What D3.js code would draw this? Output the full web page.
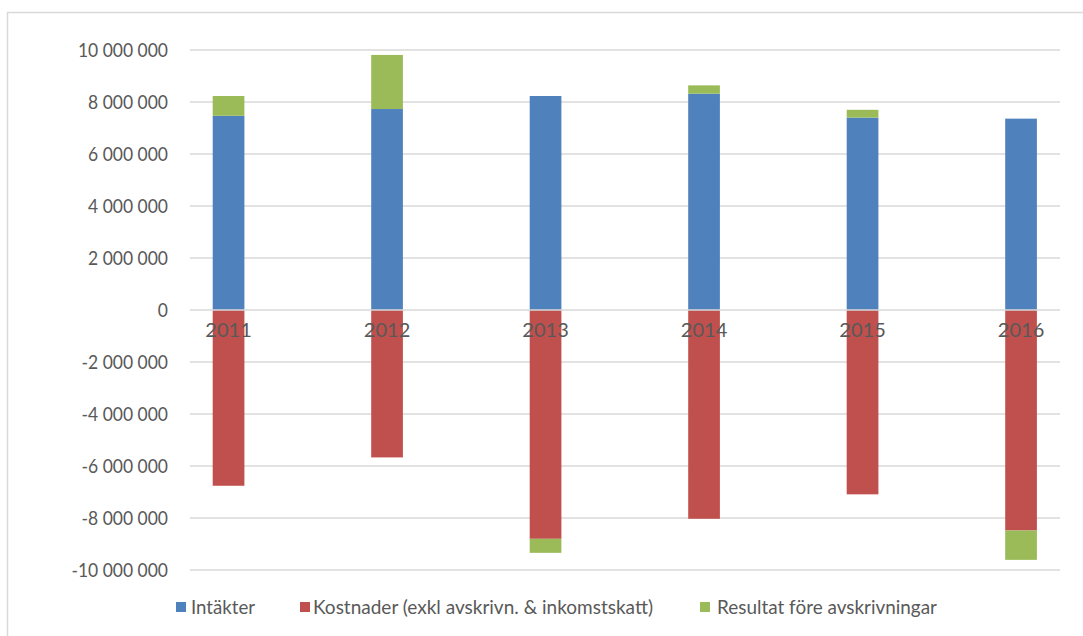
<!DOCTYPE html>
<html>
<head>
<meta charset="utf-8">
<script src="https://cdn.jsdelivr.net/npm/d3@7"></script>
<style>
  html, body { margin: 0; padding: 0; background: #fff; }
  svg { display: block; }
  text { font-family: Lato, "Open Sans", sans-serif; fill: #595959; }
</style>
</head>
<body>
<svg id="chart" width="1083" height="636"></svg>
<script>
// Årsdata (kr)
const years = ["2011", "2012", "2013", "2014", "2015", "2016"];
const intakter  = [7470000, 7730000, 8230000, 8320000, 7400000, 7360000];
const kostnader = [-6760000, -5670000, -8800000, -8030000, -7090000, -8480000];
const resultat  = [760000, 2080000, -540000, 320000, 300000, -1130000];
const yTicks = [10000000, 8000000, 6000000, 4000000, 2000000, 0,
                -2000000, -4000000, -6000000, -8000000, -10000000];

const seriesNames = ["Intäkter", "Kostnader (exkl avskrivn. & inkomstskatt)", "Resultat före avskrivningar"];
const seriesKeys = ["intakter", "kostnader", "resultat"];
const colors = ["#4f81bd", "#c0504d", "#9bbb59"];

const rows = years.map((y, i) => ({
  year: y, intakter: intakter[i], kostnader: kostnader[i], resultat: resultat[i]
}));

const svg = d3.select("#chart");

// chart frame
svg.append("line").attr("x1", 7.5).attr("x2", 7.5).attr("y1", 12).attr("y2", 636)
  .attr("stroke", "#d9d9d9").attr("stroke-width", 1.5);
svg.append("line").attr("x1", 7).attr("x2", 1083).attr("y1", 12.5).attr("y2", 12.5)
  .attr("stroke", "#d9d9d9").attr("stroke-width", 1.5);

const x = d3.scaleBand().domain(years).range([149.3, 1100.3])
  .paddingInner(0.8).paddingOuter(0.4);
const y = d3.scaleLinear().domain([-10000000, 10000000]).range([570, 50]);

const locale = d3.formatLocale({ decimal: ",", thousands: "\u00a0", grouping: [3], currency: ["", " kr"], minus: "-" });
const fmt = locale.format(",d");

// gridlines
const gridX1 = 190, gridX2 = 1060;
svg.append("g").selectAll("line").data(yTicks.filter(t => t !== 0)).join("line")
  .attr("x1", gridX1).attr("x2", gridX2)
  .attr("y1", d => y(d)).attr("y2", d => y(d))
  .attr("stroke", "#d9d9d9").attr("stroke-width", 1.5);

// y axis labels (slightly condensed)
const yAxis = d3.axisLeft(y).tickValues(yTicks).tickFormat(fmt).tickSize(0).tickPadding(0);
const gy = svg.append("g").attr("transform", "translate(168,0)").call(yAxis);
gy.select(".domain").remove();
gy.selectAll("text").attr("font-size", 19).attr("fill", "#595959")
  .style("font-family", "Lato, 'Open Sans', sans-serif").attr("dy", "0.35em")
  .each(function () {
    const w = this.getComputedTextLength();
    d3.select(this).attr("textLength", w * 0.92).attr("lengthAdjust", "spacingAndGlyphs");
  });

// stacked bars (diverging)
const stack = d3.stack().keys(seriesKeys).offset(d3.stackOffsetDiverging);
const stacked = stack(rows);

svg.append("g").selectAll("g").data(stacked).join("g")
  .attr("fill", (d, i) => colors[i])
  .selectAll("rect").data(d => d).join("rect")
  .attr("x", d => x(d.data.year))
  .attr("width", x.bandwidth())
  .attr("y", d => y(Math.max(d[0], d[1])))
  .attr("height", d => Math.abs(y(d[0]) - y(d[1])));

// zero axis line
svg.append("line").attr("x1", gridX1).attr("x2", gridX2)
  .attr("y1", y(0)).attr("y2", y(0))
  .attr("stroke", "#d9d9d9").attr("stroke-width", 1.5);

// category labels next to zero axis
svg.append("g").selectAll("text").data(years).join("text")
  .attr("x", d => x(d) + x.bandwidth() / 2)
  .attr("y", y(0) + 27)
  .attr("text-anchor", "middle")
  .attr("font-size", 20)
  .attr("fill", "#595959")
  .text(d => d);

// legend
const legendItems = [
  { sx: 176, tx: 191, w: 64 },
  { sx: 300, tx: 313, w: 340 },
  { sx: 700, tx: 717, w: 220 }
];
const lg = svg.append("g");
legendItems.forEach((it, i) => {
  lg.append("rect").attr("x", it.sx).attr("y", 602).attr("width", 10).attr("height", 10)
    .attr("fill", colors[i]);
  lg.append("text").attr("x", it.tx).attr("y", 614)
    .attr("font-size", 20)
    .attr("textLength", it.w).attr("lengthAdjust", "spacingAndGlyphs")
    .text(seriesNames[i]);
});
</script>
</body>
</html>
